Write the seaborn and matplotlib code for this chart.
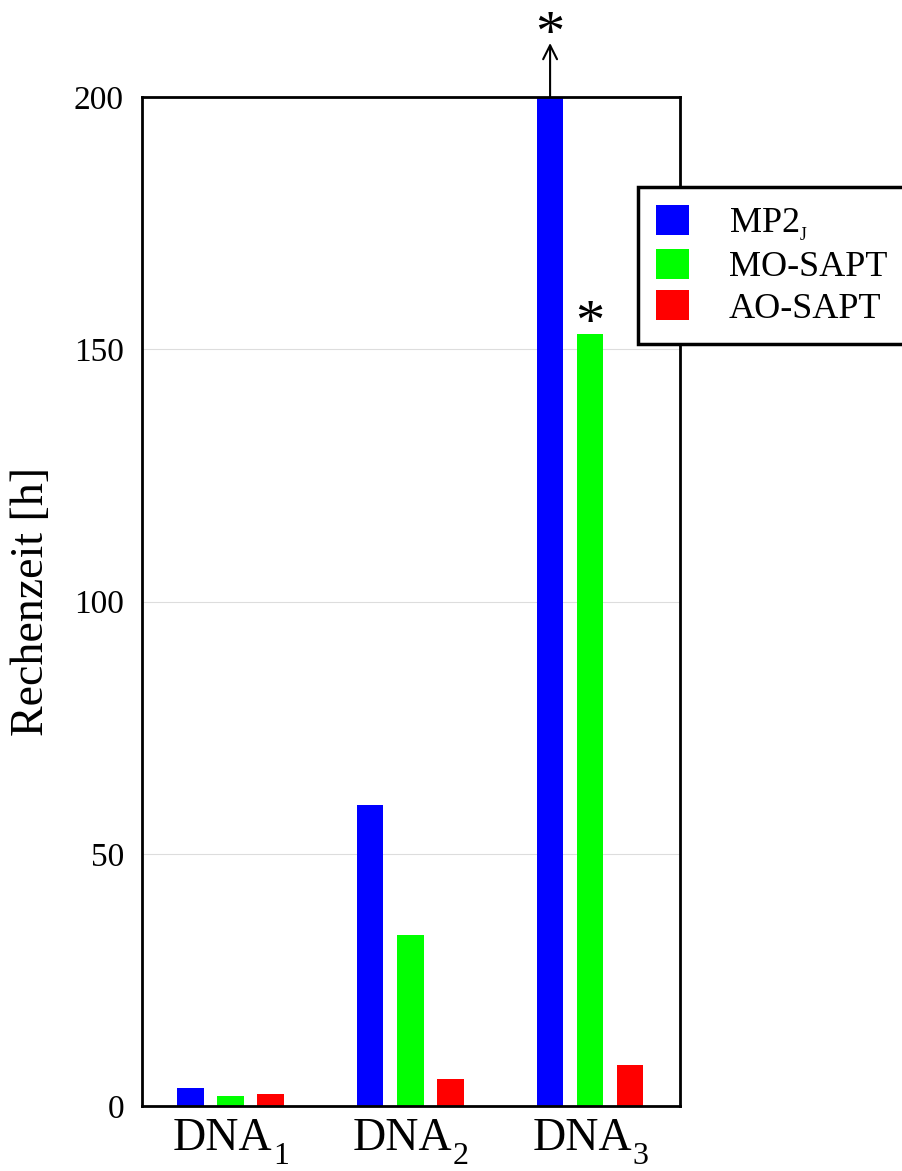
import matplotlib
matplotlib.use("Agg")
import matplotlib.pyplot as plt
import seaborn as sns
import pandas as pd

categories = ["DNA1", "DNA2", "DNA3"]
cat_base = "DNA"
cat_sub = ["1", "2", "3"]
methods = ["MP2J", "MO-SAPT", "AO-SAPT"]
legend_labels = [r"MP2$_{_{\mathregular{J}}}$", "MO-SAPT", "AO-SAPT"]
mp2_j = [3.6, 59.7, 200.0]
mo_sapt = [2.0, 33.9, 153.0]
ao_sapt = [2.3, 5.3, 8.1]
colors = ["#0000ff", "#00ff00", "#ff0000"]
yticks = [0, 50, 100, 150, 200]

rows = []
for m, vals in zip(methods, [mp2_j, mo_sapt, ao_sapt]):
    for c, v in zip(categories, vals):
        rows.append({"cat": c, "method": m, "value": v})
df = pd.DataFrame(rows)

sns.set_theme(style="white")
plt.rcParams["font.family"] = ["Liberation Serif", "DejaVu Serif"]
plt.rcParams["mathtext.fontset"] = "custom"
plt.rcParams["mathtext.rm"] = "Liberation Serif"
plt.rcParams["mathtext.it"] = "Liberation Serif"
plt.rcParams["mathtext.default"] = "regular"
for k in ["text.color", "axes.labelcolor", "xtick.color", "ytick.color"]:
    plt.rcParams[k] = "black"

PX = 0.72  # points per pixel at 100 dpi

fig = plt.figure(figsize=(9.03, 11.71), dpi=100)
ax = fig.add_axes([142/903, 1-1106/1171, (680-142)/903, (1106-97)/1171])

sns.barplot(data=df, x="cat", y="value", hue="method", palette=colors,
            order=categories, hue_order=methods, width=0.667, gap=0.33,
            saturation=1, ax=ax, legend=True, zorder=2,
            edgecolor="none", linewidth=0)

ax.set_ylim(0, 200)
ax.set_xlim(-0.49, 2.5)
ax.set_yticks(yticks)
ax.set_yticklabels([str(t) for t in yticks], fontsize=24)
ax.tick_params(axis="both", length=0)
ax.tick_params(axis="y", pad=13)
ax.tick_params(axis="x", labelbottom=False)
ax.yaxis.grid(True, color="#dddddd", linewidth=0.8, zorder=0)
ax.set_axisbelow(True)
for s in ax.spines.values():
    s.set_visible(True)
    s.set_color("black")
    s.set_linewidth(2)
ax.set_xlabel("")
ax.set_ylabel("Rechenzeit [h]", fontsize=33, labelpad=15)

# category labels with lowered subscripts
for i, sub in enumerate(cat_sub):
    base = ax.annotate(cat_base, xy=(i, 0), xycoords=("data", "axes fraction"),
                       xytext=(-8*PX, -44.5*PX), textcoords="offset points",
                       ha="center", va="baseline", fontsize=33,
                       annotation_clip=False)
    ax.annotate(sub, xy=(1, 0), xycoords=(base, "axes fraction"),
                xytext=(1*PX, -57.5*PX), textcoords="offset points",
                ha="left", va="baseline", fontsize=23, annotation_clip=False)

# markers for off-scale / special values
xb = 2 - 0.222
ax.annotate("", xy=(xb, 210.7), xytext=(xb, 200), xycoords="data",
            arrowprops=dict(arrowstyle="->", color="black", lw=1.5,
                            mutation_scale=25, shrinkA=0, shrinkB=0),
            annotation_clip=False)
ax.text(xb, 212.1, "*", fontsize=42, ha="center", va="center", clip_on=False)
ax.text(2.0, 154.8, "*", fontsize=42, ha="center", va="center", clip_on=False)

handles, _ = ax.get_legend_handles_labels()
leg = ax.legend(handles, legend_labels, loc="upper left",
                bbox_to_anchor=(638/903, 1-187/1171),
                bbox_transform=fig.transFigure, fontsize=26, frameon=True,
                fancybox=False, edgecolor="black", framealpha=1,
                handlelength=0.92, handleheight=0.92, handletextpad=1.1,
                labelspacing=0.15, borderpad=0.5, borderaxespad=0)
leg.get_frame().set_linewidth(2.5)

fig.savefig("out.png", dpi=100)
